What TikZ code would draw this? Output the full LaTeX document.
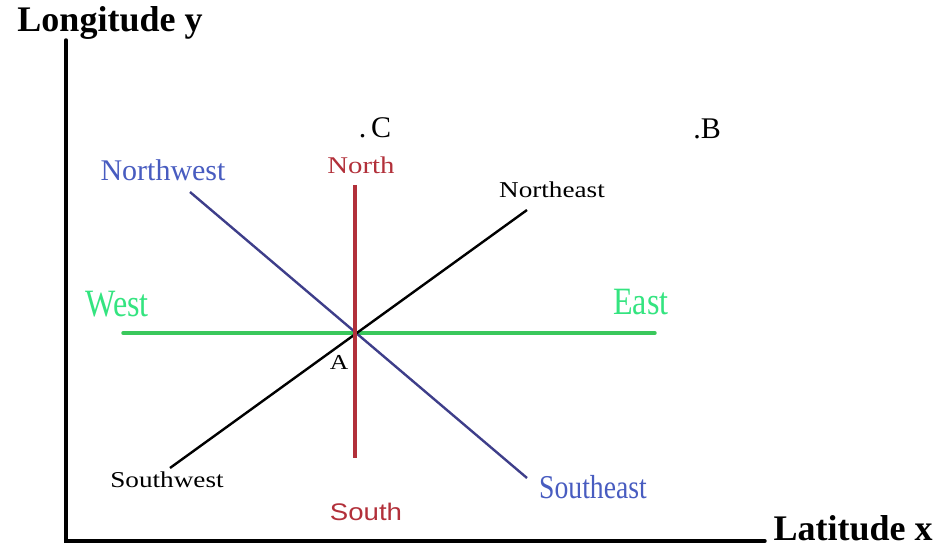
\documentclass[tikz,border=0pt]{standalone}
\usepackage{fontspec}
\setmainfont{Liberation Serif}
\newfontfamily\wideserif{Liberation Serif}[FakeStretch=1.2]
\newfontfamily\narrowserif{Liberation Serif}[FakeStretch=0.83]
\newfontfamily\widesans{Liberation Sans}[FakeStretch=1.15]
\usepackage{xcolor}
\definecolor{cmpred}{RGB}{178,48,58}
\definecolor{cmpblue}{RGB}{72,92,192}
\definecolor{cmpnavy}{RGB}{62,62,138}
\definecolor{cmpgreen}{RGB}{58,200,92}
\definecolor{cmpmint}{RGB}{52,228,128}
\usepackage{tikz}
\usetikzlibrary{calc}

\begin{document}
\begin{tikzpicture}[x=0.75pt,y=-0.75pt,inner sep=0pt,
  axis/.style={black,line width=2.6pt,line cap=round},
  nsline/.style={cmpred,line width=2.6pt},
  ewline/.style={cmpgreen,line width=2.6pt,line cap=round},
  nwline/.style={cmpnavy,line width=1.8pt},
  neline/.style={black,line width=1.8pt},
  axlbl/.style={font=\fontsize{27}{30}\selectfont\bfseries},
  lbl/.style={anchor=center}]
\useasboundingbox (0,0) rectangle (944,548);
% axes
\coordinate (org) at (66,541);
\coordinate (ytop) at (66,40);
\coordinate (xend) at (765,541);
\draw[axis] (ytop) -- (org) -- (xend);
\node[axlbl] (ylab) at (110,23) {Longitude y};
\node[axlbl] (xlab) at (853,528) {Latitude x};
% compass lines
\coordinate (A0) at (355,333);
\coordinate (nEnd) at (355,185);
\coordinate (sEnd) at (355,458);
\coordinate (wEnd) at (123,333);
\coordinate (eEnd) at (655,333);
\coordinate (nwEnd) at (190,192);
\coordinate (seEnd) at (527,478);
\coordinate (neEnd) at (527,210);
\coordinate (swEnd) at (170,468);
\draw[ewline] (wEnd) -- (eEnd);
\draw[nwline] (nwEnd) -- (seEnd);
\draw[neline] (swEnd) -- (neEnd);
\draw[nsline] (nEnd) -- (sEnd);
% labels
\node[lbl,text=cmpred,font=\wideserif\fontsize{18}{20}\selectfont] (north) at (361,165) {North};
\node[lbl,text=cmpred,font=\widesans\fontsize{18}{20}\selectfont] (south) at (366,512) {South};
\node[lbl,text=cmpmint,font=\narrowserif\fontsize{29}{32}\selectfont] (west) at (117,304) {West};
\node[lbl,text=cmpmint,font=\narrowserif\fontsize{29}{32}\selectfont] (east) at (641,302) {East};
\node[lbl,text=cmpblue,font=\fontsize{22.5}{25}\selectfont] (nw) at (163,170) {Northwest};
\node[lbl,text=cmpblue,font=\narrowserif\fontsize{25}{28}\selectfont] (se) at (593,487) {Southeast};
\node[lbl,font=\wideserif\fontsize{17}{19}\selectfont] (ne) at (552,190) {Northeast};
\node[lbl,font=\wideserif\fontsize{17}{19}\selectfont] (sw) at (167,480) {Southwest};
\node[lbl,font=\wideserif\fontsize{16}{18}\selectfont] (alab) at (339,362) {A};
\node[lbl,font=\fontsize{22.5}{25}\selectfont] (cpt) at (375,128) {.\,C};
\node[lbl,font=\fontsize{22.5}{25}\selectfont] (bpt) at (707,129) {.B};
\end{tikzpicture}
\end{document}
